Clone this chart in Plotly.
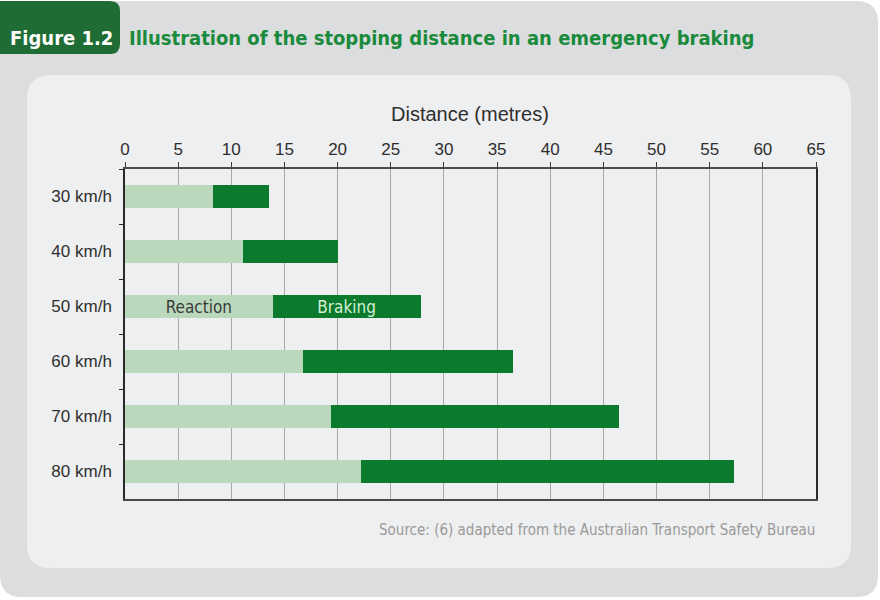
import plotly.graph_objects as go

# stopping distance at each speed (metres)
speeds = ["30 km/h", "40 km/h", "50 km/h", "60 km/h", "70 km/h", "80 km/h"]
reaction = [8.3, 11.1, 13.9, 16.7, 19.4, 22.2]
braking = [5.2, 8.9, 13.9, 19.8, 27.1, 35.1]
x_ticks = list(range(0, 70, 5))
reaction_text = ["", "", "Reaction", "", "", ""]
braking_text = ["", "", "Braking", "", "", ""]

W, H = 880, 600
L, R, T, B = 125, 64, 169, 101
PW, PH = W - L - R, H - T - B

NARROW = "Liberation Sans Narrow, DejaVu Sans Condensed, Arial Narrow, sans-serif"
SANS = "Liberation Sans, Arial, sans-serif"


def px(x):
    return (x - L) / PW


def py(y):
    return (H - B - y) / PH


def rrect(x0, y0, x1, y1, r, corners="1111"):
    # rounded rectangle in pixel space -> paper path; corners: tl, tr, br, bl
    tl, tr, br, bl = [r if c == "1" else 0 for c in corners]
    pts = []
    pts.append(f"M{px(x0 + tl)},{py(y0)}")
    pts.append(f"L{px(x1 - tr)},{py(y0)}")
    pts.append(f"Q{px(x1)},{py(y0)} {px(x1)},{py(y0 + tr)}")
    pts.append(f"L{px(x1)},{py(y1 - br)}")
    pts.append(f"Q{px(x1)},{py(y1)} {px(x1 - br)},{py(y1)}")
    pts.append(f"L{px(x0 + bl)},{py(y1)}")
    pts.append(f"Q{px(x0)},{py(y1)} {px(x0)},{py(y1 - bl)}")
    pts.append(f"L{px(x0)},{py(y0 + tl)}")
    pts.append(f"Q{px(x0)},{py(y0)} {px(x0 + tl)},{py(y0)}")
    return " ".join(pts) + " Z"


fig = go.Figure()
fig.add_trace(go.Bar(
    y=speeds, x=reaction, orientation="h", name="Reaction",
    marker=dict(color="#bad9bc", line=dict(width=0)),
    text=reaction_text, textposition="inside", insidetextanchor="middle",
    constraintext="none",
    textfont=dict(family=NARROW, size=17, color="#3a3a3a"),
    width=0.42,
))
fig.add_trace(go.Bar(
    y=speeds, x=braking, orientation="h", name="Braking",
    marker=dict(color="#0b7a2c", line=dict(width=0)),
    text=braking_text, textposition="inside", insidetextanchor="middle",
    constraintext="none",
    textfont=dict(family=NARROW, size=17, color="#d6f0d6"),
    width=0.42,
))

shapes = [
    # outer grey card
    dict(type="path", xref="paper", yref="paper", layer="below",
         path=rrect(0, 1, 878, 597, 22, "0111"),
         fillcolor="#dcdddf", line=dict(width=0)),
    # inner light panel
    dict(type="path", xref="paper", yref="paper", layer="below",
         path=rrect(27, 75, 851, 568, 24),
         fillcolor="#eeeff0", line=dict(width=0)),
    # dark green figure tab
    dict(type="path", xref="paper", yref="paper", layer="below",
         path=rrect(0, 1, 120, 54, 10, "0110"),
         fillcolor="#1f6d35", line=dict(width=0)),
]

annotations = [
    dict(text="<b>Figure 1.2</b>", xref="paper", yref="paper",
         x=px(61), y=py(38), xanchor="center", yanchor="middle", showarrow=False,
         font=dict(family=NARROW, size=20, color="white")),
    dict(text="<b>Illustration of the stopping distance in an emergency braking</b>",
         xref="paper", yref="paper", x=px(127), y=py(38), xanchor="left",
         yanchor="middle", showarrow=False,
         font=dict(family=NARROW, size=20, color="#1a8a3c")),
    dict(text="Distance (metres)", xref="paper", yref="paper",
         x=px(470), y=py(114), xanchor="center", yanchor="middle", showarrow=False,
         font=dict(family=SANS, size=20, color="#2e2e2e")),
    dict(text="Source: (6) adapted from the Australian Transport Safety Bureau",
         xref="paper", yref="paper", x=px(817), y=py(530), xanchor="right",
         yanchor="middle", showarrow=False,
         font=dict(family=NARROW, size=15, color="#9a9a9a")),
]

fig.update_layout(
    width=W, height=H,
    margin=dict(l=L, r=R, t=T, b=B),
    paper_bgcolor="white",
    plot_bgcolor="rgba(0,0,0,0)",
    barmode="stack",
    bargap=0.58,
    showlegend=False,
    shapes=shapes,
    annotations=annotations,
    font=dict(family=SANS, color="#2e2e2e"),
)

fig.update_xaxes(
    side="top", range=[0, 65], tickvals=x_ticks,
    tickfont=dict(family=SANS, size=17, color="#2e2e2e"),
    showgrid=True, gridcolor="#a8a8a8", gridwidth=1,
    showline=True, linecolor="#4a4a4a", linewidth=1.5, mirror=True,
    ticks="outside", ticklen=5, tickcolor="#3a3a3a", tickwidth=1,
    zeroline=False, fixedrange=True,
)
fig.update_yaxes(
    autorange="reversed", categoryorder="array", categoryarray=speeds,
    tickfont=dict(family=SANS, size=17, color="#2e2e2e"),
    showline=True, linecolor="#2a2a2a", linewidth=1.5, mirror=True,
    ticks="outside", tickson="boundaries", ticklen=4, tickcolor="#2a2a2a",
    ticklabelstandoff=8, showgrid=False, fixedrange=True,
)

# drop the browser's default body margin so the card sits at the window corner
fig.write_html("out.html", config={"displayModeBar": False},
               post_script="document.body.style.margin='0';")
